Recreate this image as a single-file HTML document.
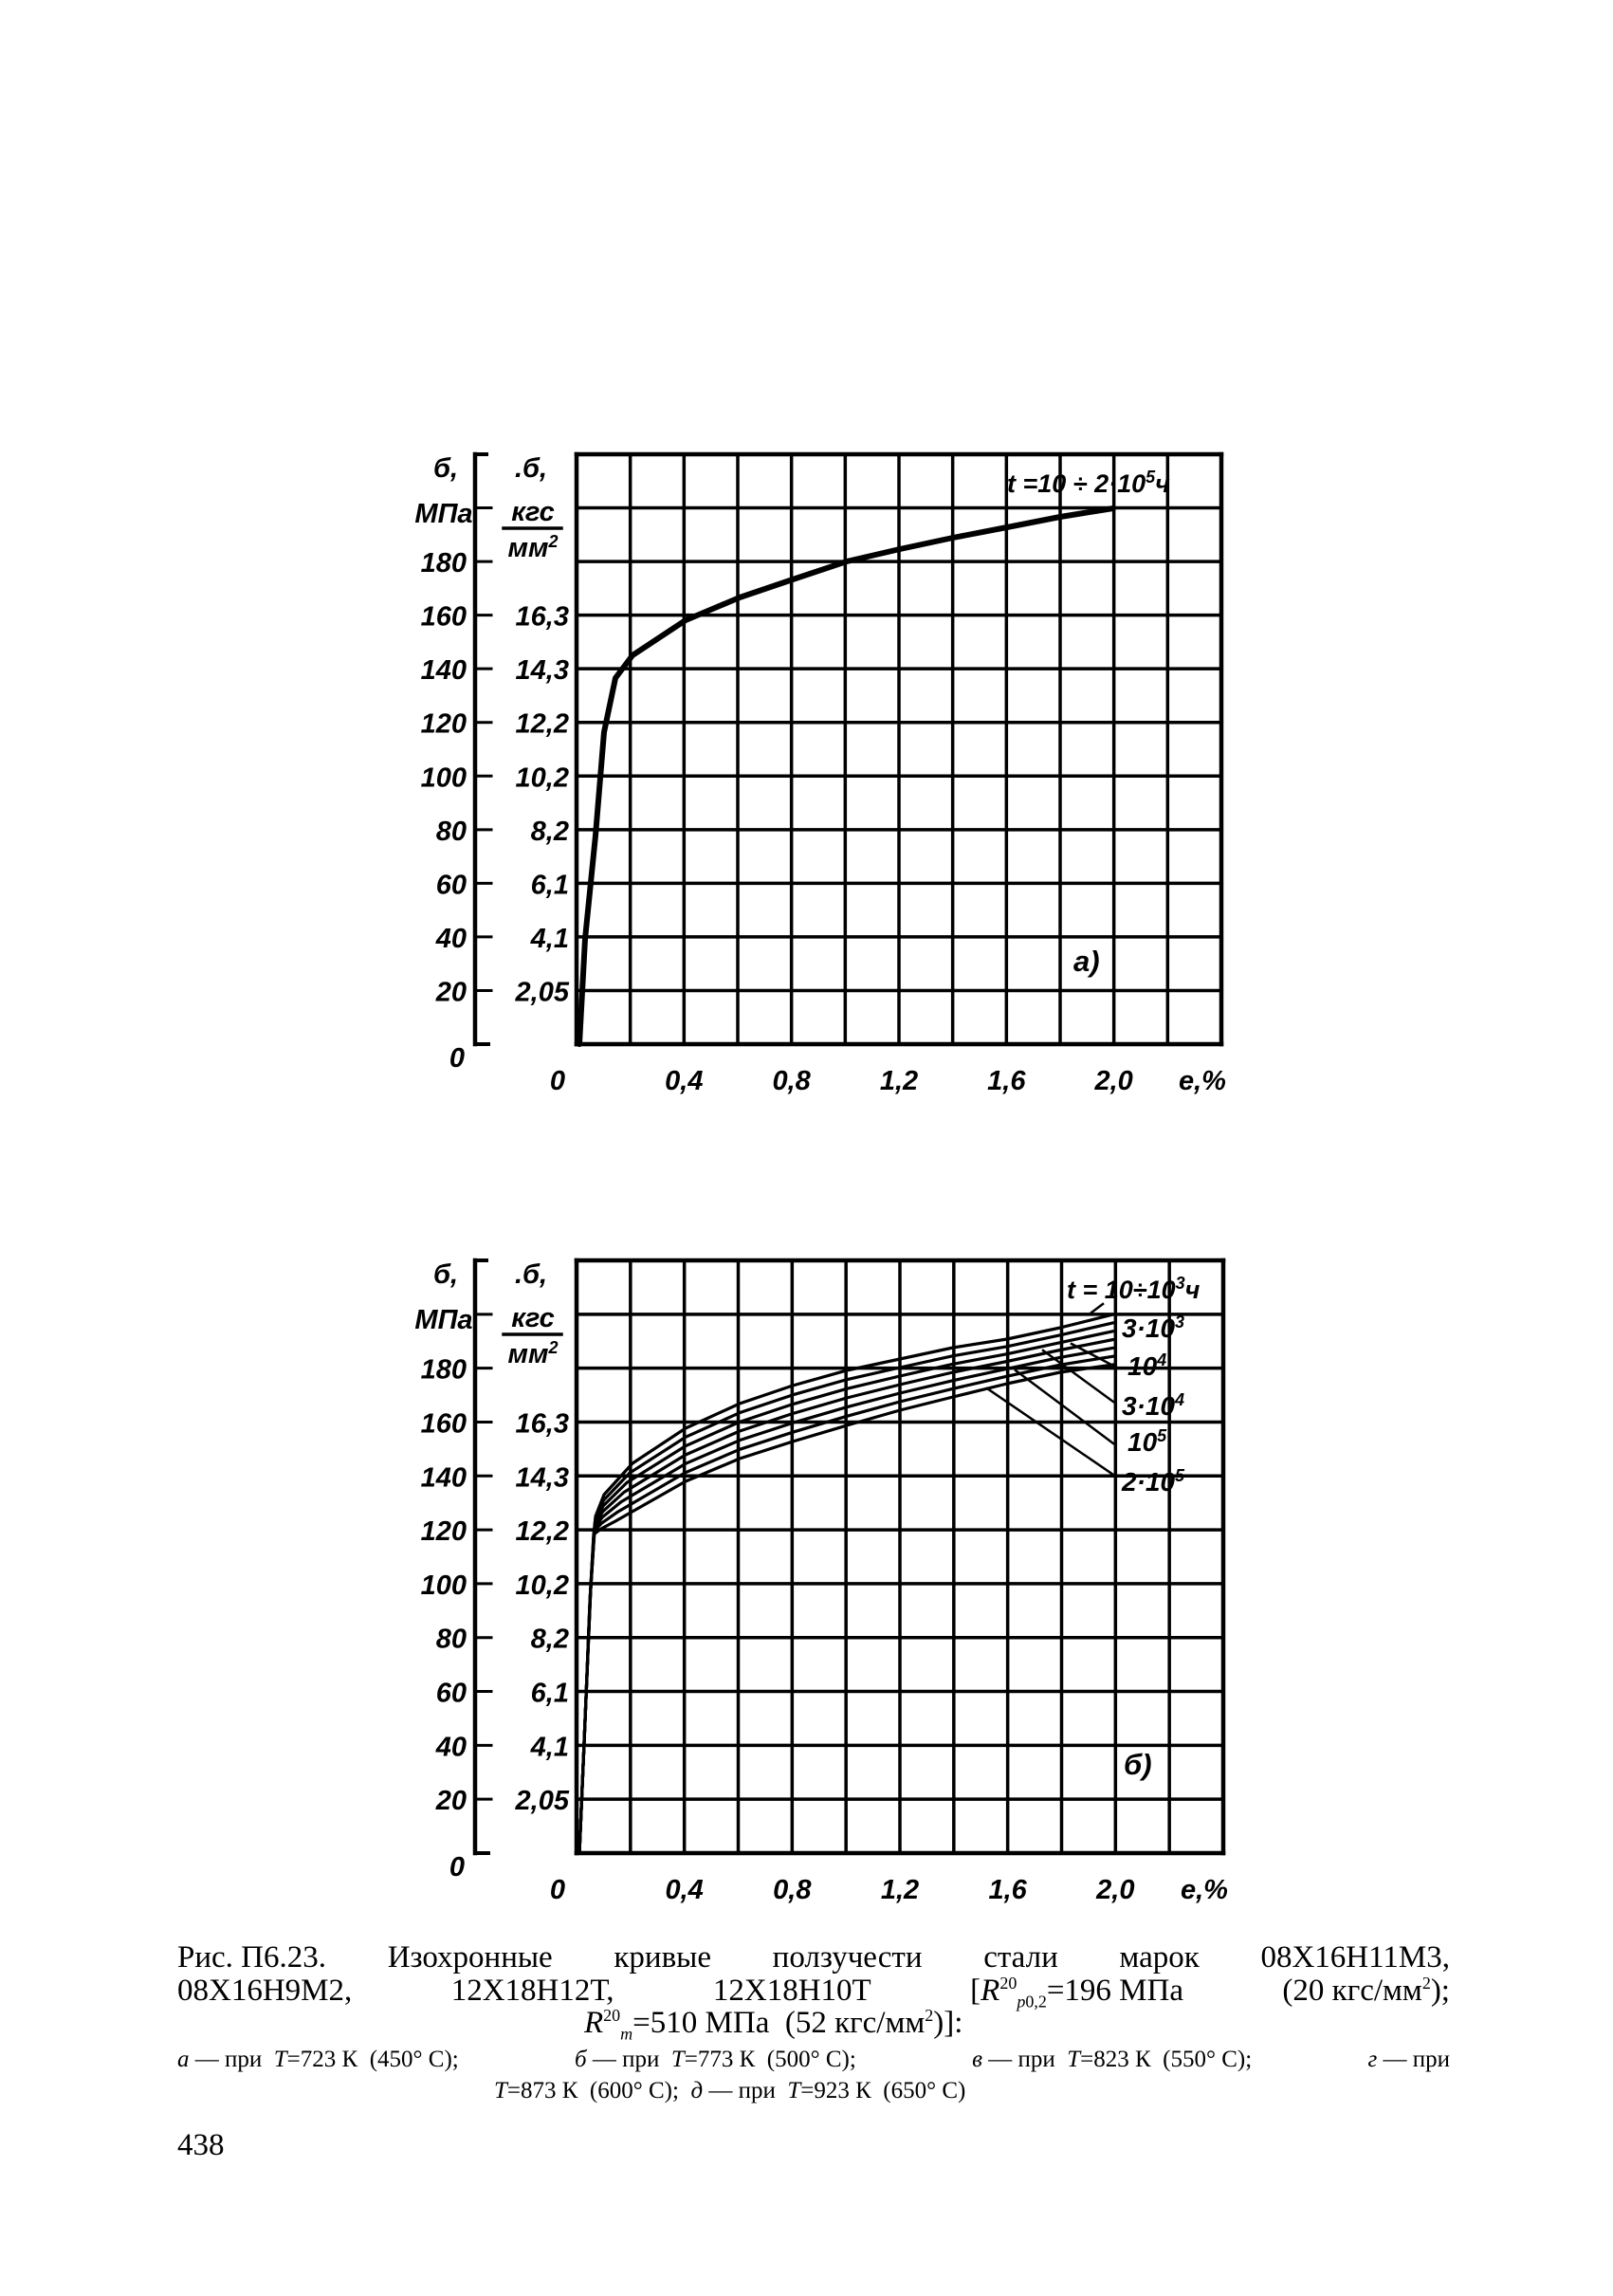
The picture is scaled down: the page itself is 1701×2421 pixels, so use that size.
<!DOCTYPE html>
<html><head><meta charset="utf-8">
<style>
html,body{margin:0;padding:0;background:#fff;}
body{width:1701px;height:2421px;position:relative;overflow:hidden;font-family:"Liberation Serif",serif;color:#000;}
svg{position:absolute;left:0;top:0;}
.ln{position:absolute;display:flex;justify-content:space-between;white-space:nowrap;font-family:"Liberation Serif","Noto Serif CJK SC",serif;}
</style></head><body>
<svg id="s" width="1701" height="2421" xmlns="http://www.w3.org/2000/svg"></svg>

<div class="ln" style="left:187px;width:1342px;top:2046px;font-size:33px;"><span>Рис. П6.23.</span><span>Изохронные</span><span>кривые</span><span>ползучести</span><span>стали</span><span>марок</span><span>08Х16Н11М3,</span></div>
<div class="ln" style="left:187px;width:1342px;top:2081px;font-size:33px;"><span>08Х16Н9М2,</span><span>12Х18Н12Т,</span><span>12Х18Н10Т</span><span>[<i>R</i><sup style="font-size:18px">20</sup><sub style="font-size:18px"><i>p</i>0,2</sub>=196 МПа</span><span>(20 кгс/мм<sup style="font-size:18px">2</sup>);</span></div>
<div class="ln" style="left:616px;width:490px;top:2115px;font-size:33px;"><span><i>R</i><sup style="font-size:18px">20</sup><sub style="font-size:18px"><i>m</i></sub>=510 МПа&nbsp; (52 кгс/мм<sup style="font-size:18px">2</sup>)]:</span></div>
<div class="ln" style="left:187px;width:1342px;top:2158px;font-size:25px;"><span><i>а</i> — при&nbsp; <i>Т</i>=723 К&nbsp; (450° С);</span><span><i>б</i> — при&nbsp; <i>Т</i>=773 К&nbsp; (500° С);</span><span><i>в</i> — при&nbsp; <i>Т</i>=823 К&nbsp; (550° С);</span><span><i>г</i> — при</span></div>
<div class="ln" style="left:521px;width:690px;top:2191px;font-size:25px;"><span><i>Т</i>=873 К&nbsp; (600° С);&nbsp; <i>д</i> — при&nbsp; <i>Т</i>=923 К&nbsp; (650° С)</span></div>
<div class="ln" style="left:187px;top:2244px;font-size:33px;"><span>438</span></div>

<script>
(function(){
var s=document.getElementById('s'),h='';
function L(x1,y1,x2,y2,w){h+='<line x1="'+x1+'" y1="'+y1+'" x2="'+x2+'" y2="'+y2+'" stroke="#000" stroke-width="'+(w||3.5)+'" stroke-linecap="square"/>';}
function T(x,y,t,a,fs){h+='<text x="'+x+'" y="'+y+'" text-anchor="'+(a||'start')+'" font-family="Liberation Sans, DejaVu Sans, sans-serif" font-style="italic" font-weight="bold" font-size="'+(fs||29)+'">'+t+'</text>';}
function P(pts,w){var d='M'+pts.map(function(p){return p[0]+' '+p[1];}).join(' L');h+='<path d="'+d+'" fill="none" stroke="#000" stroke-width="'+w+'" stroke-linejoin="round" stroke-linecap="round"/>';}
function chart(Lx,R,Tp,B){
  var cw=(R-Lx)/12,rh=(B-Tp)/11;
  for(var i=0;i<=12;i++)L(Lx+i*cw,Tp,Lx+i*cw,B,i==0||i==12?4.5:3.5);
  for(var j=0;j<=11;j++)L(Lx,B-j*rh,R,B-j*rh,j==0||j==11?4.5:3.5);
  L(501,Tp,501,B,4.5);L(501,Tp,513,Tp,4);L(501,B,515,B,4);
  for(var j=1;j<=10;j++)L(501,B-j*rh,518,B-j*rh,3);
  var kg=['2,05','4,1','6,1','8,2','10,2','12,2','14,3','16,3'];
  for(var j=1;j<=9;j++)T(492,B-j*rh+11,String(j*20),'end');
  for(var j=1;j<=8;j++)T(600,B-j*rh+11,kg[j-1],'end');
  T(490,B+24,'0','end');
  T(470,Tp+24,'б,','middle');T(468,Tp+72,'МПа','middle');
  T(560,Tp+24,'.б,','middle');T(562,Tp+70,'кгс','middle');L(531,Tp+78,592,Tp+78,3.5);T(562,Tp+108,'мм<tspan dy="-10" font-size="18">2</tspan>','middle');
  var xl=['0,4','0,8','1,2','1,6','2,0'];
  T(Lx-20,B+48,'0','middle');
  for(var i=0;i<5;i++)T(Lx+(i+1)*2*cw,B+48,xl[i],'middle');
  T(R-20,B+48,'е,%','middle');
}
chart(608,1288,479,1101);
chart(608,1290,1329,1954);
T(1062,519,'t =10 ÷ 2·10<tspan dy="-10" font-size="18">5</tspan><tspan dy="10">ч</tspan>','start',27);
T(1132,1024,'а)','start',31);
P([[611,1101],[617,990],[628,881],[637,772],[649,715],[667,691],[723,654],[780,630],[836,611],[893,592],[949,579],[1005,567],[1062,556],[1118,545],[1174,536]],6);
var up=[[611,1954],[617,1814],[623,1674],[628,1599],[637,1576],[667,1543],[723,1506],[780,1480],[836,1461],[893,1445],[949,1433],[1005,1421],[1062,1412],[1118,1400],[1174,1386]];
var dn=[[611,1954],[617,1814],[622,1690],[626,1618],[634,1612],[649,1604],[723,1562],[780,1538],[836,1520],[893,1503],[949,1487],[1005,1473],[1062,1459],[1118,1447],[1174,1439]];
for(var k=0;k<7;k++){var f=k/6;P(up.map(function(p,i){return [p[0]+(dn[i][0]-p[0])*f,p[1]+(dn[i][1]-p[1])*f];}),3.2);}
L(1041,1464,1174,1555,2.5);L(1071,1445,1174,1522,2.5);L(1100,1424,1174,1478,2.5);L(1130,1417,1174,1440,2.5);L(1151,1384,1163,1375,2.5);
T(1125,1369,'t = 10÷10<tspan dy="-10" font-size="18">3</tspan><tspan dy="10">ч</tspan>','start',27);
T(1183,1410,'3·10<tspan dy="-10" font-size="18">3</tspan>','start',28);
T(1189,1450,'10<tspan dy="-10" font-size="18">4</tspan>','start',28);
T(1183,1492,'3·10<tspan dy="-10" font-size="18">4</tspan>','start',28);
T(1189,1530,'10<tspan dy="-10" font-size="18">5</tspan>','start',28);
T(1183,1572,'2·10<tspan dy="-10" font-size="18">5</tspan>','start',28);
T(1185,1871,'б)','start',31);
s.innerHTML=h;
})();
</script>
</body></html>
